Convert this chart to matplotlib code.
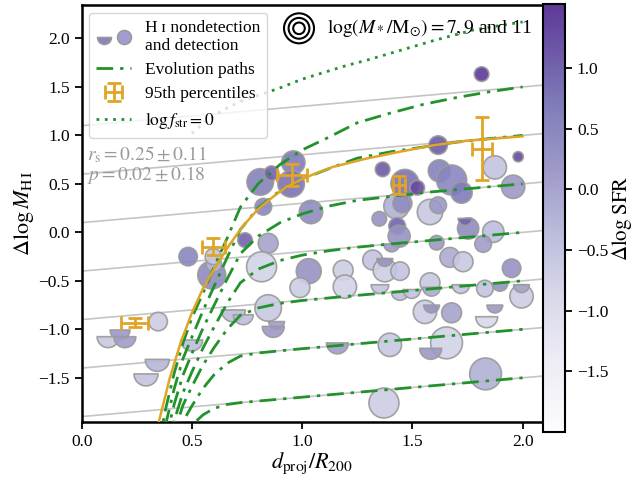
import numpy as np
import matplotlib
matplotlib.use("Agg")
import matplotlib.pyplot as plt
from matplotlib.path import Path
from matplotlib.colors import ListedColormap
from matplotlib.lines import Line2D
from matplotlib.legend_handler import HandlerTuple

plt.rcParams["font.family"] = ["Liberation Serif", "DejaVu Serif"]
plt.rcParams["mathtext.fontset"] = "stix"

# HI detections: position, log stellar mass, Delta log SFR
DET_X = [0.81, 0.861, 0.96, 0.95, 0.824, 1.04, 0.483, 0.59, 0.60, 0.741, 0.846, 0.816, 1.03, 1.186,
         1.194, 1.617, 1.98, 1.365, 1.874, 1.622, 1.678, 1.466, 1.522, 1.723, 1.957, 1.428, 1.455,
         1.58, 1.617, 1.35, 1.431, 1.44, 1.753, 1.867, 1.821, 1.61, 1.67, 1.73, 1.95, 1.32, 1.375,
         1.444, 1.58, 1.829, 1.995, 1.557, 1.678, 1.398, 1.655, 1.832, 1.371, 0.846, 0.347, 1.814,
         0.597, 0.99]
DET_Y = [0.52, 0.61, 0.72, 0.50, 0.264, 0.21, -0.25, -0.44, -0.33, -0.08, -0.113, -0.355, -0.40,
         -0.39, -0.56, 0.90, 0.78, 0.65, 0.67, 0.635, 0.54, 0.505, 0.46, 0.41, 0.47, 0.27, 0.30, 0.21,
         0.28, 0.14, 0.065, -0.04, 0.04, 0.006, -0.12, -0.107, -0.258, -0.303, -0.37, -0.285, -0.39,
         -0.40, -0.52, -0.58, -0.66, -0.82, -0.83, -1.16, -1.14, -1.46, -1.76, -0.78, -0.92, 1.632,
         -0.25, -0.57]
DET_LOGM = [10.25, 7.65, 9.55, 10.25, 8.1, 9.55, 8.5, 10.55, 7.8, 7.65, 8.8, 11.0, 9.9, 8.8, 9.55,
            8.5, 6.7, 7.65, 9.55, 9.25, 11.0, 10.55, 7.65, 9.1, 9.55, 10.0, 8.6, 10.0, 8.1, 7.65,
            8.1, 9.25, 9.1, 9.1, 8.1, 7.65, 8.8, 8.8, 8.5, 8.8, 9.55, 8.5, 8.8, 8.1, 9.55, 9.55, 8.8,
            9.55, 11.4, 11.4, 11.0, 10.25, 8.5, 7.65, 8.0, 8.8]
DET_SFR = [0.6, 1.0, 0.7, 0.8, 0.5, 0.4, 0.5, 0.4, -0.3, 1.0, 0.0, -0.8, 0.3, -0.7, -0.8, 1.1, 1.3,
           1.1, -0.5, 0.6, 0.5, 0.8, 1.3, 0.7, 0.2, -0.2, 0.4, -0.6, 0.2, 0.3, 1.0, 0.3, 0.4, -0.4,
           0.1, 0.2, -0.1, -0.6, 0.3, -0.5, -0.7, -0.5, -0.6, -0.5, -0.7, -0.7, 0.0, -0.6, -0.8,
           -0.2, -0.7, -0.6, -0.7, 1.5, -0.6, -0.7]

# HI nondetections (upper limits)
NON_X = [1.739, 1.406, 1.375, 1.353, 1.444, 1.497, 1.587, 1.72, 1.897, 1.995, 1.587, 1.874, 1.837,
         1.16, 1.583, 0.688, 0.733, 0.884, 0.869, 0.174, 0.12, 0.196, 0.499, 0.343, 0.292]
NON_Y = [0.144, -0.12, -0.27, -0.54, -0.61, -0.59, -0.567, -0.54, -0.526, -0.54, -0.75, -0.75, -0.87,
         -1.14, -1.196, -0.80, -0.85, -0.92, -0.97, -1.007, -1.076, -1.076, -1.11, -1.31, -1.46]
NON_LOGM = [7.5, 7.9, 7.9, 8.3, 8.3, 8.3, 8.3, 8.3, 7.9, 7.9, 7.9, 7.9, 9.25, 9.25, 9.25, 9.7, 8.8,
            7.9, 9.25, 8.8, 9.25, 9.25, 9.25, 9.7, 9.7]
NON_SFR = [1.0, 0.2, 0.3, -0.5, -0.4, -0.5, -0.2, -0.5, 0.3, 0.0, 0.3, 0.2, -0.9, 0.1, 0.2, -0.4,
           -0.4, 0.1, 0.2, 0.2, -0.6, 0.1, -0.4, -0.3, -0.5]

# 95th percentiles (centre and bar ends)
P95_X = [0.24, 0.597, 0.952, 1.44, 1.814]
P95_Y = [-0.93, -0.148, 0.59, 0.488, 0.856]
P95_XLO = [0.18, 0.544, 0.884, 1.413, 1.769]
P95_XHI = [0.30, 0.65, 1.02, 1.466, 1.86]
P95_YLO = [-0.973, -0.23, 0.48, 0.395, 0.539]
P95_YHI = [-0.887, -0.06, 0.71, 0.58, 1.186]

# grey reference lines: intercept at d=0, common slope
REF_C = [1.1, 0.6, 0.1, -0.4, -0.9, -1.4, -1.9]
REF_SLOPE = 0.2

# evolution paths, read along a common x grid
PATH_X = [0.35, 0.38, 0.42, 0.46, 0.50, 0.55, 0.60, 0.66, 0.72, 0.80, 0.90, 1.00, 1.12, 1.25,
          1.40, 1.55, 1.70, 1.85, 2.00]
PATH_1 = [-2.19, -1.83, -1.45, -1.14, -0.88, -0.63, -0.36, -0.06, 0.26, 0.50, 0.70, 0.85, 0.98,
          1.13, 1.23, 1.32, 1.39, 1.45, 1.50]
PATH_2 = [-2.34, -1.99, -1.61, -1.30, -1.08, -0.81, -0.56, -0.26, 0.03, 0.25, 0.43, 0.55, 0.655,
          0.765, 0.83, 0.88, 0.93, 0.967, 1.00]
PATH_3 = [-2.49, -2.15, -1.77, -1.47, -1.25, -0.99, -0.755, -0.48, -0.22, -0.04, 0.10, 0.19, 0.27,
          0.33, 0.37, 0.41, 0.44, 0.47, 0.50]
PATH_4 = [-2.65, -2.30, -1.94, -1.65, -1.44, -1.195, -0.98, -0.73, -0.52, -0.38, -0.29, -0.235,
          -0.19, -0.153, -0.12, -0.09, -0.06, -0.03, 0.0]
PATH_5 = [-2.75, -2.41, -2.06, -1.78, -1.59, -1.37, -1.19, -1.00, -0.855, -0.78, -0.732, -0.703,
          -0.677, -0.65, -0.62, -0.59, -0.56, -0.53, -0.50]
PATH_6 = [-2.85, -2.52, -2.20, -1.95, -1.79, -1.61, -1.47, -1.35, -1.276, -1.244, -1.222, -1.20,
          -1.176, -1.15, -1.12, -1.09, -1.06, -1.03, -1.00]
PATH_7 = [-2.86, -2.57, -2.29, -2.10, -1.99, -1.883, -1.816, -1.775, -1.756, -1.74, -1.72, -1.70,
          -1.676, -1.65, -1.62, -1.59, -1.56, -1.53, -1.50]

# 95th-percentile envelope
ENV_X = [0.345, 0.40, 0.45, 0.50, 0.55, 0.60, 0.67, 0.73, 0.80, 0.87, 0.93, 1.00, 1.08, 1.14,
         1.29, 1.44, 1.60, 1.75, 2.00]
ENV_Y = [-2.0, -1.50, -1.13, -0.83, -0.58, -0.38, -0.13, 0.06, 0.24, 0.37, 0.47, 0.55, 0.625,
         0.675, 0.76, 0.83, 0.90, 0.945, 0.99]

# log f_str = 0 curve
FSTR_X = [0.50, 0.56, 0.64, 0.72, 0.81, 0.90, 1.00, 1.10, 1.20, 1.30, 1.45, 1.60, 1.78, 2.00]
FSTR_Y = [1.02, 1.14, 1.26, 1.35, 1.42, 1.49, 1.58, 1.65, 1.72, 1.78, 1.88, 1.98, 2.09, 2.17]

LEGEND_LOGM = [11, 9, 7]

GREEN = "#22922a"
ORANGE = "#e0a526"
EDGE = "#9a9a9a"
DPI = 100

cmap = ListedColormap(plt.cm.Purples(np.linspace(0.0, 0.82, 256)))
vmin, vmax = -2.0, 1.53
HALF = Path.wedge(180, 360)


def marker_area(logm):
    r_px = 5.8 + 2.3 * (np.asarray(logm, dtype=float) - 7)
    return (2 * r_px * 72 / DPI) ** 2


fig = plt.figure(figsize=(6.33, 4.79), dpi=DPI)
ax = fig.add_axes([0.129, 0.1196, 0.729, 0.870])
cax = fig.add_axes([0.858, 0.0987, 0.0348, 0.893])

for c in REF_C:
    ax.axline((0, c), slope=REF_SLOPE, color="#c4c4c4", lw=1.2, zorder=1)

sc = ax.scatter(DET_X, DET_Y, s=marker_area(DET_LOGM), c=DET_SFR, cmap=cmap, vmin=vmin,
                vmax=vmax, edgecolors=EDGE, linewidths=1.2, alpha=0.9, zorder=2)
ax.scatter(NON_X, NON_Y, s=marker_area(NON_LOGM), c=NON_SFR, cmap=cmap, vmin=vmin, vmax=vmax,
           marker=HALF, edgecolors=EDGE, linewidths=1.2, alpha=0.9, zorder=2)

dashdot = (0, (6, 2.5, 1.2, 2.5))
for py in [PATH_1, PATH_2, PATH_3, PATH_4, PATH_5, PATH_6, PATH_7]:
    ax.plot(PATH_X, py, color=GREEN, lw=2, ls=dashdot, zorder=3)
ax.plot(FSTR_X, FSTR_Y, color=GREEN, lw=2, ls=(0, (1, 2)), zorder=3)
ax.plot(ENV_X, ENV_Y, color=ORANGE, lw=1.8, zorder=4)

px, py_ = np.array(P95_X), np.array(P95_Y)
xerr = [px - np.array(P95_XLO), np.array(P95_XHI) - px]
yerr = [py_ - np.array(P95_YLO), np.array(P95_YHI) - py_]
eb = ax.errorbar(px, py_, xerr=xerr, yerr=yerr, fmt="none", ecolor=ORANGE, elinewidth=2,
                 capsize=5, capthick=2, zorder=5)

ax.set_xlim(0, 2.093)
ax.set_ylim(-1.953, 2.345)
ax.set_xticks([0.0, 0.5, 1.0, 1.5, 2.0])
ax.set_yticks([-1.5, -1.0, -0.5, 0.0, 0.5, 1.0, 1.5, 2.0])
ax.tick_params(direction="out", length=5, width=1.3, labelsize=12.5, top=False, right=False)
for sp in ax.spines.values():
    sp.set_linewidth(1.8)
ax.set_xlabel(r"$d_{\rm proj}/R_{200}$", fontsize=16, labelpad=1)
ax.set_ylabel(r"$\Delta\log M_{\rm H\,I}$", fontsize=16, labelpad=2)

# main legend
half_h = Line2D([], [], ls="none", marker=HALF, ms=10, mfc="#8c84c0", mec=EDGE, mew=1.2)
circ_h = Line2D([], [], ls="none", marker="o", ms=10, mfc="#a19dd0", mec=EDGE, mew=1.2)
path_h = Line2D([], [], color=GREEN, lw=2, ls=dashdot)
fstr_h = Line2D([], [], color=GREEN, lw=2, ls=(0, (1, 2)))
leg = ax.legend([(half_h, circ_h), path_h, eb, fstr_h],
                ["H\u2009\u026a nondetection\nand detection", "Evolution paths",
                 "95th percentiles", r"$\log f_{\rm str}=0$"],
                handler_map={tuple: HandlerTuple(ndivide=None, pad=0.3)},
                loc="upper left", fontsize=12.5, framealpha=0.8, edgecolor="#cccccc",
                borderaxespad=0.45, handlelength=2.0, labelspacing=0.45, borderpad=0.4)
leg.set_zorder(6)

# stellar-mass size key
ax.scatter([0.471] * 3, [0.944] * 3, s=marker_area(LEGEND_LOGM), facecolors="none",
           edgecolors="black", linewidths=1.5, transform=ax.transAxes, zorder=7)
ax.text(0.531, 0.944, r"$\log(M_*/{\rm M}_{\odot})=7, 9$ and 11", transform=ax.transAxes,
        fontsize=14, va="center", ha="left", zorder=7)

ax.text(0.012, 0.616, "$r_{\\rm s}=0.25\\pm0.11$\n$p=0.02\\pm0.18$", transform=ax.transAxes,
        fontsize=14, color="#9a9a9a", va="center", linespacing=0.95, zorder=7)

cb = fig.colorbar(plt.cm.ScalarMappable(norm=sc.norm, cmap=cmap), cax=cax)
cb.set_ticks([-1.5, -1.0, -0.5, 0.0, 0.5, 1.0])
cax.tick_params(direction="out", length=5, width=1.3, labelsize=12.5)
cb.outline.set_linewidth(1.5)
cb.set_label(r"$\Delta\log\,{\rm SFR}$", fontsize=15, labelpad=1)

fig.savefig("out.png", dpi=DPI, facecolor="white")
